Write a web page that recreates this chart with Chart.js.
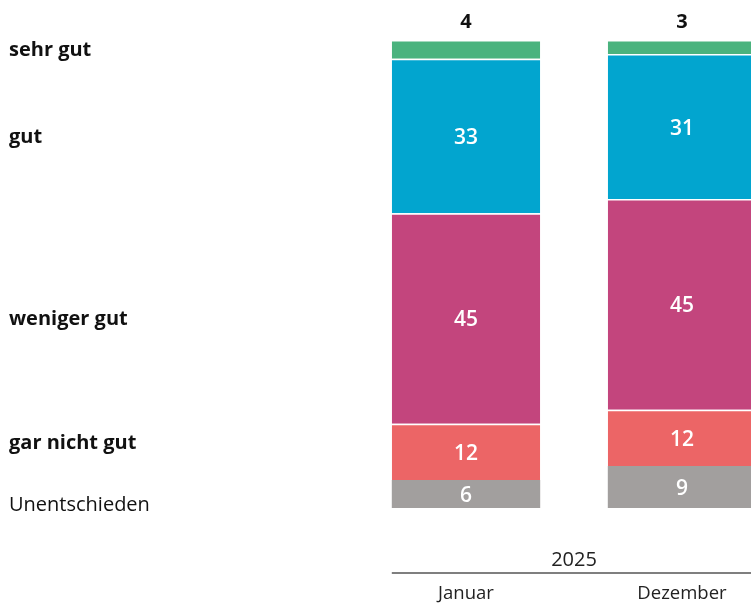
<!DOCTYPE html>
<html>
<head>
<meta charset="utf-8">
<script src="https://cdn.jsdelivr.net/npm/chart.js@4/dist/chart.umd.min.js"></script>
<style>
  html, body { margin: 0; padding: 0; background: #fff; overflow: hidden; width: 751px; height: 605px; }
  #wrap { position: absolute; left: 0; top: 0; width: 790px; height: 605px; }
</style>
</head>
<body>
<div id="wrap"><canvas id="c" width="790" height="605"></canvas></div>
<script>
// ---- data ----
const categories = ['Januar', 'Dezember'];
const groupLabel = '2025';
const seriesNames = ['Unentschieden', 'gar nicht gut', 'weniger gut', 'gut', 'sehr gut'];
const unentschieden = [6, 9];
const garNichtGut = [12, 12];
const wenigerGut = [45, 45];
const gut = [33, 31];
const sehrGut = [4, 3];
const seriesColors = ['#a29f9e', '#ec6566', '#c3457d', '#02a5cf', '#4ab37e'];
const seriesBold = [false, true, true, true, true];
const labelOutside = [false, false, false, false, true];

const seriesValues = [unentschieden, garNichtGut, wenigerGut, gut, sehrGut];
const FONT = "'Open Sans', 'Noto Sans', sans-serif";

const datasets = seriesNames.map((name, i) => ({
  label: name,
  data: seriesValues[i],
  backgroundColor: seriesColors[i],
  borderColor: 'rgba(255,255,255,0.9)',
  borderWidth: { top: i === 0 ? 0 : 1.5, bottom: 0, left: 0, right: 0 },
  borderSkipped: false,
  categoryPercentage: 1,
  barPercentage: 0.687
}));

const annotatePlugin = {
  id: 'annotate',
  afterDatasetsDraw(chart) {
    const ctx = chart.ctx;
    const xs = chart.scales.x;
    ctx.save();
    // values on bars
    chart.data.datasets.forEach((ds, i) => {
      const meta = chart.getDatasetMeta(i);
      meta.data.forEach((bar, j) => {
        const p = bar.getProps(['x', 'y', 'base'], true);
        const v = ds.data[j];
        ctx.textAlign = 'center';
        ctx.textBaseline = 'middle';
        if (labelOutside[i]) {
          ctx.fillStyle = '#111';
          ctx.font = '700 20px ' + FONT;
          ctx.fillText(String(v), p.x, p.y - 18);
        } else {
          ctx.fillStyle = '#fff';
          ctx.font = '600 21px ' + FONT;
          ctx.fillText(String(v), p.x, (p.y + p.base) / 2 + 2);
        }
      });
    });
    // category labels on left, aligned with first column, with overlap resolution
    const items = chart.data.datasets.map((ds, i) => {
      const bar = chart.getDatasetMeta(i).data[0];
      const p = bar.getProps(['y', 'base'], true);
      return { i, y: (p.y + p.base) / 2 };
    }).sort((a, b) => a.y - b.y);
    const minGap = 62;
    for (let pass = 0; pass < 50; pass++) {
      for (let k = 0; k < items.length - 1; k++) {
        const a = items[k], b = items[k + 1];
        const gap = b.y - a.y;
        if (gap < minGap) {
          const d = (minGap - gap) / 2;
          a.y -= d; b.y += d;
        }
      }
    }
    items.forEach(it => {
      ctx.textAlign = 'left';
      ctx.textBaseline = 'middle';
      ctx.fillStyle = '#111';
      ctx.font = (seriesBold[it.i] ? '700 ' : '400 ') + '20px ' + FONT;
      ctx.fillText(seriesNames[it.i], 9, it.y + 1);
    });
    // x axis: group label, line, category labels
    const firstBar = chart.getDatasetMeta(0).data[0];
    const lastBar = chart.getDatasetMeta(0).data[categories.length - 1];
    const left = firstBar.x - firstBar.width / 2;
    const right = lastBar.x + lastBar.width / 2;
    const base = chart.scales.y.getPixelForValue(0);
    ctx.strokeStyle = '#555';
    ctx.lineWidth = 1.5;
    ctx.beginPath();
    ctx.moveTo(left, base + 65);
    ctx.lineTo(right, base + 65);
    ctx.stroke();
    ctx.fillStyle = '#222';
    ctx.textAlign = 'center';
    ctx.textBaseline = 'middle';
    ctx.font = '400 20px ' + FONT;
    ctx.fillText(groupLabel, (left + right) / 2, base + 52);
    ctx.font = '400 18.5px ' + FONT;
    categories.forEach((c, j) => {
      ctx.fillText(c, xs.getPixelForValue(j), base + 86);
    });
    ctx.restore();
  }
};

new Chart(document.getElementById('c'), {
  type: 'bar',
  data: { labels: categories, datasets },
  options: {
    responsive: false,
    animation: false,
    layout: { padding: { left: 358, right: 0, top: 40, bottom: 97 } },
    plugins: { legend: { display: false }, tooltip: { enabled: false } },
    scales: {
      x: { stacked: true, display: false },
      y: { stacked: true, display: false, min: 0, max: 100 }
    }
  },
  plugins: [annotatePlugin]
});
</script>
</body>
</html>
